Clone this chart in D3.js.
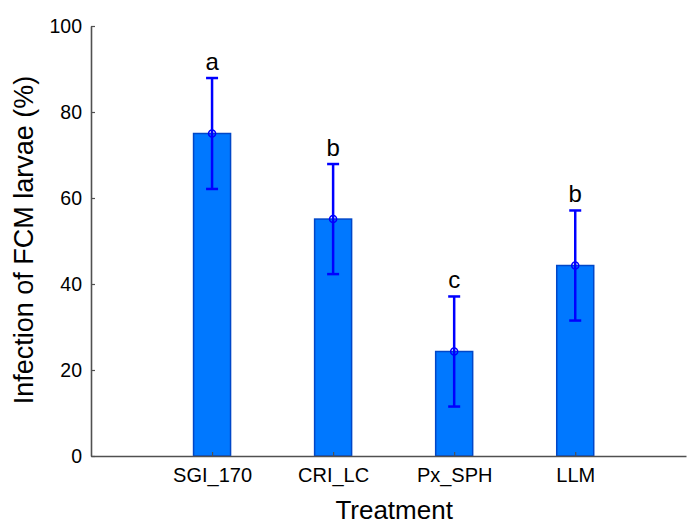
<!DOCTYPE html>
<html>
<head>
<meta charset="utf-8">
<script src="https://cdn.jsdelivr.net/npm/d3@7"></script>
<style>
  html, body { margin: 0; padding: 0; background: #fff; }
  svg { display: block; font-family: "Liberation Sans", Arial, sans-serif; }
</style>
</head>
<body>
<svg id="chart" width="688" height="525"></svg>
<script>
const categories = ["SGI_170", "CRI_LC", "Px_SPH", "LLM"];
const means = [75.0, 55.1, 24.3, 44.3];
const errors = [12.9, 12.8, 12.8, 12.8];
const letters = ["a", "b", "c", "b"];
const yTicks = [0, 20, 40, 60, 80, 100];

const svg = d3.select("#chart");
const x0 = 91, x1 = 686, yTop = 26, yBot = 456;

const x = d3.scaleLinear().domain([0, 4.915]).range([x0, x1]);
const y = d3.scaleLinear().domain([0, 100]).range([yBot, yTop]);
const barW = 37;
const blue = "#0000ff";

const data = categories.map((c, i) => ({c, i: i + 1, m: means[i], e: errors[i], l: letters[i]}));

// bars
svg.append("g").selectAll("rect").data(data).join("rect")
  .attr("x", d => x(d.i) - barW / 2)
  .attr("y", d => y(d.m))
  .attr("width", barW)
  .attr("height", d => y(0) - y(d.m))
  .attr("fill", "#0078ff")
  .attr("stroke", "#0047c8")
  .attr("stroke-width", 1.5);

// error bars
const eg = svg.append("g").attr("stroke", blue).attr("stroke-width", 2.5).attr("fill", "none");
eg.selectAll("line.v").data(data).join("line").attr("class", "v")
  .attr("x1", d => x(d.i)).attr("x2", d => x(d.i))
  .attr("y1", d => y(d.m + d.e)).attr("y2", d => y(d.m - d.e));
eg.selectAll("line.t").data(data).join("line").attr("class", "t")
  .attr("x1", d => x(d.i) - 6).attr("x2", d => x(d.i) + 6)
  .attr("y1", d => y(d.m + d.e)).attr("y2", d => y(d.m + d.e));
eg.selectAll("line.b").data(data).join("line").attr("class", "b")
  .attr("x1", d => x(d.i) - 6).attr("x2", d => x(d.i) + 6)
  .attr("y1", d => y(d.m - d.e)).attr("y2", d => y(d.m - d.e));
eg.selectAll("circle").data(data).join("circle")
  .attr("cx", d => x(d.i)).attr("cy", d => y(d.m)).attr("r", 3.5)
  .attr("stroke-width", 1.6);

// significance letters
svg.append("g").selectAll("text").data(data).join("text")
  .attr("x", d => x(d.i))
  .attr("y", d => y(d.m + d.e) - 8)
  .attr("text-anchor", "middle")
  .attr("font-size", 24)
  .attr("fill", "#000")
  .text(d => d.l);

// axes
const yAxis = d3.axisLeft(y).tickValues(yTicks).tickSizeInner(-4).tickSizeOuter(0).tickPadding(9);
const gy = svg.append("g").attr("transform", `translate(${x0},0)`).call(yAxis);
gy.selectAll("text").attr("font-size", 19.5).attr("fill", "#000").attr("font-family", "Liberation Sans, Arial, sans-serif");

const xAxis = d3.axisBottom(x).tickValues(data.map(d => d.i)).tickFormat((d, i) => categories[i])
  .tickSizeInner(-4).tickSizeOuter(0).tickPadding(12);
const gx = svg.append("g").attr("transform", `translate(0,${yBot})`).call(xAxis);
gx.selectAll("text").attr("font-size", 20).attr("fill", "#000").attr("font-family", "Liberation Sans, Arial, sans-serif");

[gx, gy].forEach(g => {
  g.select(".domain").attr("stroke", "#505050").attr("stroke-width", 1.6);
  g.selectAll(".tick line").attr("stroke", "#505050").attr("stroke-width", 1.2);
});

// axis titles
svg.append("text")
  .attr("x", (x(1) + x(4)) / 2 + 0.5)
  .attr("y", 519)
  .attr("text-anchor", "middle")
  .attr("font-size", 26)
  .attr("fill", "#000")
  .text("Treatment");

svg.append("text")
  .attr("transform", `translate(33,240) rotate(-90)`)
  .attr("text-anchor", "middle")
  .attr("font-size", 27)
  .attr("fill", "#000")
  .text("Infection of FCM larvae (%)");
</script>
</body>
</html>
